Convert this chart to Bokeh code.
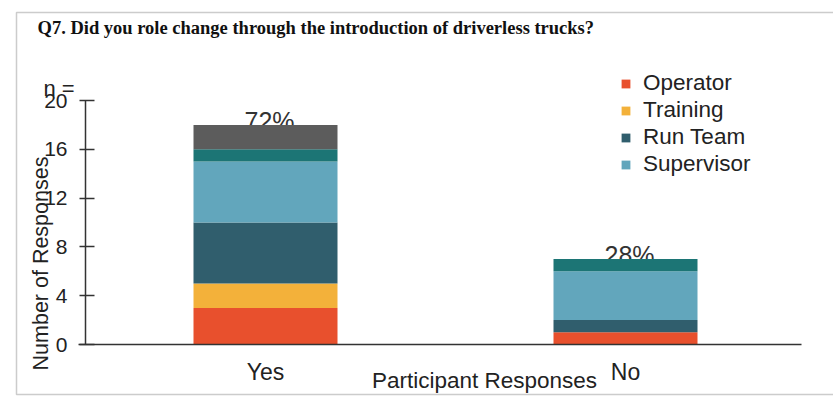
import math
from bokeh.plotting import figure
from bokeh.models import (ColumnDataSource, Range1d, Legend, LegendItem,
                          Label, BoxAnnotation, FixedTicker)
from bokeh.core.properties import value
from bokeh.embed import file_html
from bokeh.resources import INLINE

# ---- data ----
categories = ["Yes", "No"]
operator = [3, 1]
training = [2, 0]
run_team = [5, 1]
supervisor = [5, 4]
other_teal = [1, 1]
other_grey = [2, 0]
percent_labels = ["72%", "28%"]
y_ticks = [0, 4, 8, 12, 16, 20]
legend_roles = ["Operator", "Training", "Run Team", "Supervisor"]
colors = ["#E8502D", "#F3B13A", "#305E6D", "#62A6BC", "#1C7575", "#5C5C5C"]

positions = [i + 0.5 for i in range(len(categories))]
totals = [sum(v) for v in zip(operator, training, run_team, supervisor, other_teal, other_grey)]

source = ColumnDataSource(dict(
    x=positions, cat=categories,
    op=operator, tr=training, rt=run_team, sv=supervisor, ta=other_teal, gr=other_grey,
    total=totals, pct=percent_labels,
))
stackers = ["op", "tr", "rt", "sv", "ta", "gr"]

FONT = "Liberation Sans"
W, H = 833, 398
X0, UX = 85.0, 360.0     # pixel of x=0, pixels per unit
Y0, UY = 344.0, 12.2     # pixel of y=0, pixels per unit

p = figure(width=W, height=H,
           x_range=Range1d(-X0 / UX, (W - X0) / UX),
           y_range=Range1d(-(H - Y0) / UY, Y0 / UY),
           output_backend="svg", toolbar_location=None,
           min_border_left=0, min_border_right=0, min_border_top=0, min_border_bottom=0)
p.outline_line_color = None
p.xgrid.grid_line_color = None
p.ygrid.grid_line_color = None
p.background_fill_color = "white"
p.border_fill_color = "white"

# percent labels (drawn under the bars, as in the reference)
p.text(x="x", y="total", text="pct", source=source, text_align="center",
       text_baseline="alphabetic", x_offset=4, y_offset=-4,
       text_font=value(FONT), text_font_size="25px", text_color="#333333")

rends = p.vbar_stack(stackers, x="x", width=0.4, color=colors, source=source,
                     line_color=None)

# axes (kept in their panels, drawn at fixed positions)
ya = p.yaxis[0]
ya.fixed_location = 0
ya.ticker = FixedTicker(ticks=y_ticks)
ya.bounds = (0, 20)
ya.major_tick_in = 9
ya.major_tick_out = 6
ya.minor_tick_line_color = None
ya.axis_line_width = 1.5
ya.axis_line_color = "#333333"
ya.major_tick_line_color = "#333333"
ya.major_tick_line_width = 1.5
ya.major_label_text_font = FONT
ya.major_label_text_font_size = "21px"
ya.major_label_text_color = "#222222"
ya.major_label_standoff = 12

xa = p.xaxis[0]
xa.fixed_location = 0
xa.ticker = FixedTicker(ticks=positions)
xa.major_label_overrides = {pos: c for pos, c in zip(positions, categories)}
xa.bounds = (-0.02, 1.99)
xa.major_tick_in = 0
xa.major_tick_out = 0
xa.minor_tick_line_color = None
xa.axis_line_width = 1.5
xa.axis_line_color = "#333333"
xa.major_label_text_font = FONT
xa.major_label_text_font_size = "23px"
xa.major_label_text_color = "#222222"
xa.major_label_standoff = 14

# legend
items = [LegendItem(label=name, renderers=[r]) for name, r in zip(legend_roles, rends[:4])]
legend = Legend(items=items, location=(620, 221), label_text_font=FONT,
                label_text_font_size="22.5px", label_text_color="#222222",
                glyph_width=11, glyph_height=11, label_standoff=12, spacing=1,
                padding=10, background_fill_alpha=0, border_line_color=None)
p.add_layout(legend)

# "n =" above the value axis
p.text(x=[(43 - X0) / UX], y=[(Y0 - 88) / UY], text=["n ="],
       text_align="left", text_baseline="alphabetic",
       text_font=value(FONT), text_font_size="22px", text_color="#222222")

# texts around the chart
p.add_layout(Label(x=37, y=17, x_units="canvas", y_units="canvas",
                   text="Q7. Did you role change through the introduction of driverless trucks?",
                   text_font="Liberation Serif", text_font_style="bold",
                   text_font_size="18.5px", text_color="#111111", text_baseline="top"))
p.add_layout(Label(x=40, y=263, x_units="canvas", y_units="canvas",
                   text="Number of Responses", angle=math.pi / 2,
                   text_font=FONT, text_font_size="21.5px", text_color="#222222",
                   text_align="center", text_baseline="middle"))
p.add_layout(Label(x=484, y=380, x_units="canvas", y_units="canvas",
                   text="Participant Responses",
                   text_font=FONT, text_font_size="22.5px", text_color="#222222",
                   text_align="center", text_baseline="middle"))

# page frame
p.add_layout(BoxAnnotation(left=16, right=845, top=12, bottom=394,
                           left_units="canvas", right_units="canvas",
                           top_units="canvas", bottom_units="canvas",
                           fill_alpha=0, line_color="#555555", line_width=1.5))

open("out.html", "w").write(file_html(p, INLINE))
